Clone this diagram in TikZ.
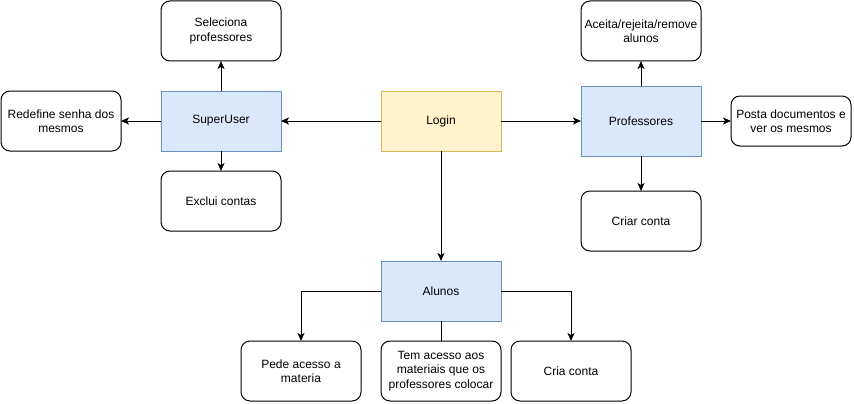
\documentclass[tikz,border=0pt]{standalone}
\usepackage{fontspec}
\setmainfont{Liberation Sans}
\usetikzlibrary{arrows.meta}
\definecolor{bluefill}{HTML}{DAE8FC}
\definecolor{blueline}{HTML}{6C8EBF}
\definecolor{yelfill}{HTML}{FFF2CC}
\definecolor{yelline}{HTML}{D6B656}
\tikzset{
  box/.style={draw=black, line width=1pt, rounded corners=9pt, fill=white,
    minimum width=120pt, minimum height=60pt, inner sep=0pt, outer sep=0pt,
    align=center, font=\fontsize{12pt}{14.4pt}\selectfont},
  bluebox/.style={box, rounded corners=0pt, draw=blueline, fill=bluefill},
  yelbox/.style={box, rounded corners=0pt, draw=yelline, fill=yelfill},
  conn/.style={line width=1pt, draw=black},
  arr/.style={conn, -{Stealth[length=8pt,width=7pt,inset=2pt]}},
}
\begin{document}
\begin{tikzpicture}[x=1pt,y=-1pt]
\useasboundingbox (0,0) rectangle (854,404);
\node[yelbox] (login) at (441,121) {Login};
\node[bluebox] (super) at (221,121) {SuperUser};
\node[box] (sel) at (221,31) {Seleciona\\professores};
\node[box] (redef) at (61,121) {Redefine senha dos\\mesmos};
\node[box] (excl) at (221,201) {Exclui contas};
\node[bluebox, minimum height=70pt] (prof) at (641,121) {Professores};
\node[box] (aceita) at (641,31) {Aceita/rejeita/remove\\alunos};
\node[box, minimum height=50pt] (posta) at (791,121) {Posta documentos e\\ver os mesmos};
\node[box] (criar) at (641,221) {Criar conta};
\node[bluebox] (alunos) at (441,291) {Alunos};
\node[box] (pede) at (301,371) {Pede acesso a\\materia};
\node[box] (tem) at (441,371) {Tem acesso aos\\materiais que os\\professores colocar};
\node[box] (cria) at (571,371) {Cria conta};

\draw[arr] (login.west) -- (super.east);
\draw[arr] (login.east) -- (prof.west);
\draw[arr] (login.south) -- (alunos.north);
\draw[arr] (super.north) -- (sel.south);
\draw[arr] (super.west) -- (redef.east);
\draw[arr] (super.south) -- (excl.north);
\draw[arr] (prof.north) -- (aceita.south);
\draw[arr] (prof.east) -- (posta.west);
\draw[arr] (prof.south) -- (criar.north);
\draw[arr] (alunos.west) -| (pede.north);
\draw[arr] (alunos.east) -| (cria.north);
\draw[conn] (alunos.south) -- (tem.north);
\end{tikzpicture}
\end{document}
